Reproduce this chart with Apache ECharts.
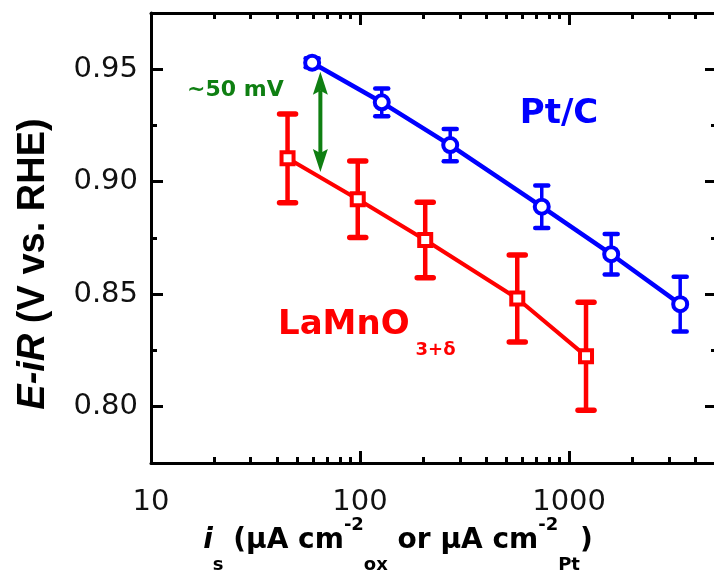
<!DOCTYPE html>
<html><head><meta charset="utf-8">
<script src="https://cdn.jsdelivr.net/npm/echarts@6/dist/echarts.min.js"></script>
<style>html,body{margin:0;padding:0;background:#fff}#c{width:714px;height:571px}</style>
</head><body><div id="c"></div>
<script>
// ---- data ----
const ptCurrent   = [59, 127, 270, 740, 1590, 3400];
const ptPotential = [0.9529, 0.9353, 0.9163, 0.8889, 0.8678, 0.8456];
const ptError     = [0.0020, 0.0062, 0.0072, 0.0094, 0.0090, 0.0122];
const lmoCurrent   = [45, 97.5, 205, 565, 1205];
const lmoPotential = [0.9104, 0.8922, 0.8741, 0.8481, 0.8225];
const lmoError     = [0.0197, 0.0170, 0.0168, 0.0193, 0.0240];
const xTickLabels = [10, 100, 1000];
const xMinorTicks = [20,30,40,50,60,70,80,90,200,300,400,500,600,700,800,900,2000,3000,4000,5000];
const yTickLabels = [0.80, 0.85, 0.90, 0.95];
const yMinorTicks = [0.825, 0.875, 0.925];
const gapArrow = [64.6, 0.9489, 0.9043]; // x, upper tip, lower tip

const BLUE = '#0000ff', RED = '#ff0000', GREEN = '#0f7f12', INK = '#000';
const DV = '"DejaVu Sans", sans-serif', LS = '"Liberation Sans", Arial, sans-serif';

const X_MIN = 10, X_MAX = 5100, Y_MIN = 0.775, Y_MAX = 0.975;

function xAx(position, ticks, len, showLine, showLabel, extra) {
  return Object.assign({
    type: 'log', logBase: 10, min: X_MIN, max: X_MAX, position,
    axisLine: {show: showLine, lineStyle: {color: INK, width: 3}},
    axisTick: {show: true, inside: true, length: len, customValues: ticks, lineStyle: {color: INK, width: 3}},
    axisLabel: showLabel ? {customValues: ticks, fontFamily: DV, fontSize: 29, color: '#111', margin: 25,
      formatter: v => String(Math.round(v))} : {show: false},
    splitLine: {show: false}, minorTick: {show: false}
  }, extra || {});
}
function yAx(position, ticks, len, showLine, showLabel, extra) {
  return Object.assign({
    type: 'value', min: Y_MIN, max: Y_MAX, position,
    axisLine: {show: showLine, lineStyle: {color: INK, width: 3}},
    axisTick: {show: true, inside: true, length: len, customValues: ticks, lineStyle: {color: INK, width: 3}},
    axisLabel: showLabel ? {customValues: ticks, fontFamily: DV, fontSize: 29, color: '#111', margin: 13,
      formatter: v => Number(v).toFixed(2)} : {show: false},
    splitLine: {show: false}
  }, extra || {});
}

function errorBars(xs, ys, es, color, capW, lw) {
  return {
    type: 'custom', xAxisIndex: 0, yAxisIndex: 0, z: 2, silent: true,
    encode: {x: 0, y: [1, 2]},
    data: xs.map((x, i) => [x, ys[i] - es[i], ys[i] + es[i]]),
    renderItem(params, api) {
      const lo = api.coord([api.value(0), api.value(1)]);
      const hi = api.coord([api.value(0), api.value(2)]);
      const h = capW / 2;
      const st = {stroke: color, lineWidth: lw + 1, lineCap: 'round'};
      return {type: 'group', children: [
        {type: 'line', shape: {x1: lo[0], y1: lo[1], x2: hi[0], y2: hi[1]}, style: {stroke: color, lineWidth: lw}},
        {type: 'line', shape: {x1: lo[0] - h, y1: lo[1], x2: lo[0] + h, y2: lo[1]}, style: st},
        {type: 'line', shape: {x1: hi[0] - h, y1: hi[1], x2: hi[0] + h, y2: hi[1]}, style: st}
      ]};
    }
  };
}

const sub = {fontFamily: DV, fontSize: 18, fontWeight: 'bold', color: INK, lineHeight: 64, padding: [48, 0, 0, 0]};
const sup = {fontFamily: DV, fontSize: 18, fontWeight: 'bold', color: INK, lineHeight: 64, padding: [0, 0, 32, 0]};

const chart = echarts.init(document.getElementById('c'), null, {renderer: 'canvas'});
chart.setOption({
  animation: false,
  backgroundColor: '#fff',
  grid: {left: 151, right: -3, top: 13, bottom: 108, containLabel: false, outerBoundsMode: 'none'},
  xAxis: [
    xAx('bottom', xTickLabels, 12, true, true, {
      name: '{i|i}{s|s}{t| (μA cm}{p|-2}{o|ox}{t| or μA cm}{p|-2}{o|Pt}{t|)}',
      nameLocation: 'middle', nameGap: 46, nameMoveOverlap: false,
      nameTextStyle: {
        padding: [0, 72, 0, 0],
        rich: {
          i: {fontFamily: DV, fontSize: 28, fontWeight: 'bold', fontStyle: 'italic', color: INK, lineHeight: 64},
          s: sub,
          t: {fontFamily: DV, fontSize: 28, fontWeight: 'bold', color: INK, lineHeight: 64},
          p: sup,
          o: sub
        }
      }
    }),
    xAx('bottom', xMinorTicks, 6, false, false),
    xAx('top', xTickLabels, 12, true, false),
    xAx('top', xMinorTicks, 6, false, false)
  ],
  yAxis: [
    yAx('left', yTickLabels, 12, true, true, {
      name: '{i|E-iR} (V vs. RHE)',
      nameLocation: 'middle', nameGap: 98, nameRotate: 90, nameMoveOverlap: false,
      nameTextStyle: {
        fontFamily: LS, fontSize: 38, fontWeight: 'bold', color: INK, lineHeight: 38,
        padding: [0, 52, 0, 0],
        rich: {i: {fontFamily: LS, fontSize: 38, fontWeight: 'bold', fontStyle: 'italic', color: INK, lineHeight: 38}}
      }
    }),
    yAx('left', yMinorTicks, 6, false, false),
    yAx('right', yTickLabels, 12, true, false),
    yAx('right', yMinorTicks, 6, false, false)
  ],
  series: [
    errorBars(ptCurrent, ptPotential, ptError, BLUE, 13, 3.5),
    errorBars(lmoCurrent, lmoPotential, lmoError, RED, 16, 4.5),
    {
      name: 'Pt/C', type: 'line', xAxisIndex: 0, yAxisIndex: 0, z: 3,
      data: ptCurrent.map((x, i) => [x, ptPotential[i]]),
      symbol: 'circle', symbolSize: 14,
      itemStyle: {color: '#fff', borderColor: BLUE, borderWidth: 4},
      lineStyle: {color: BLUE, width: 4.5}
    },
    {
      name: 'LaMnO3+δ', type: 'line', xAxisIndex: 0, yAxisIndex: 0, z: 3,
      data: lmoCurrent.map((x, i) => [x, lmoPotential[i]]),
      symbol: 'rect', symbolSize: 12,
      itemStyle: {color: '#fff', borderColor: RED, borderWidth: 4},
      lineStyle: {color: RED, width: 4}
    },
    {
      type: 'custom', xAxisIndex: 0, yAxisIndex: 0, z: 4, silent: true,
      encode: {x: 0, y: [1, 2]},
      data: [gapArrow],
      renderItem(params, api) {
        const top = api.coord([api.value(0), api.value(1)]);
        const bot = api.coord([api.value(0), api.value(2)]);
        const x = top[0], hw = 7.5, hl = 23, n = 4;
        return {type: 'group', children: [
          {type: 'line', shape: {x1: x, y1: top[1] + hl - n, x2: x, y2: bot[1] - hl + n}, style: {stroke: GREEN, lineWidth: 4}},
          {type: 'polygon', shape: {points: [[x, top[1]], [x + hw, top[1] + hl], [x, top[1] + hl - n], [x - hw, top[1] + hl]]}, style: {fill: GREEN}},
          {type: 'polygon', shape: {points: [[x, bot[1]], [x + hw, bot[1] - hl], [x, bot[1] - hl + n], [x - hw, bot[1] - hl]]}, style: {fill: GREEN}}
        ]};
      }
    }
  ],
  graphic: [
    {type: 'text', x: 187, y: 90, z: 10, style: {text: '~50 mV', fontFamily: DV, fontSize: 22, fontWeight: 'bold', fill: GREEN, align: 'left', verticalAlign: 'middle'}},
    {type: 'text', x: 559, y: 114, z: 10, style: {text: 'Pt/C', fontFamily: DV, fontSize: 34, fontWeight: 'bold', fill: BLUE, align: 'center', verticalAlign: 'middle'}},
    {type: 'text', x: 278, y: 325, z: 10, style: {
      text: '{m|LaMnO}{s|3+δ}', align: 'left', verticalAlign: 'middle',
      rich: {
        m: {fontFamily: DV, fontSize: 34, fontWeight: 'bold', fill: RED, lineHeight: 60},
        s: {fontFamily: DV, fontSize: 18, fontWeight: 'bold', fill: RED, lineHeight: 60, padding: [50, 0, 0, 6]}
      }}}
  ]
});
</script>
</body></html>
